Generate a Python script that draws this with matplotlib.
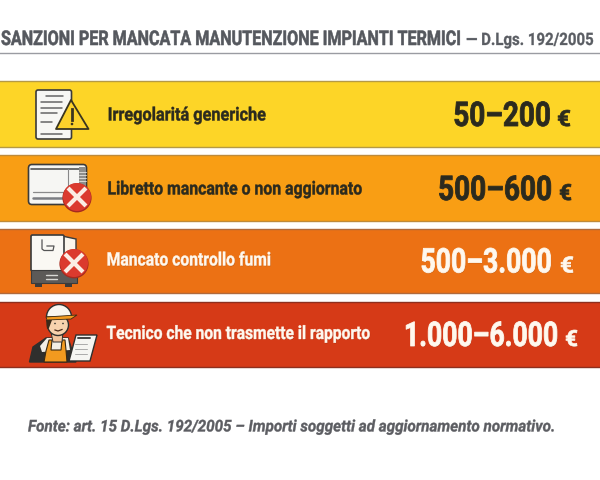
import matplotlib.patheffects as pe
import matplotlib.pyplot as plt
from matplotlib.patches import Circle, FancyBboxPatch, Polygon, Rectangle, Wedge
from matplotlib.text import Text
from matplotlib.transforms import Affine2D

# chart content
title_main = "SANZIONI PER MANCATA MANUTENZIONE IMPIANTI TERMICI"
title_sub = "— D.Lgs. 192/2005"
labels = [
    "Irregolaritá generiche",
    "Libretto mancante o non aggiornato",
    "Mancato controllo fumi",
    "Tecnico che non trasmette il rapporto",
]
amounts = ["50–200", "500–600", "500–3.000", "1.000–6.000"]
source = "Fonte: art. 15 D.Lgs. 192/2005 – Importi soggetti ad aggiornamento normativo."

# layout and style, in pixels of the 600x480 picture
bar_tops = [81, 154.5, 229, 302]
bar_heights = [66, 66, 64, 64.5]
bar_colors = ["#FDD527", "#F99E14", "#EC7114", "#D63A17"]
edge_colors = ["#B59A45", "#BE8A3A", "#B06A3C", "#8E2F1E"]
text_colors = ["#2B2A1E", "#2B2A1E", "#FFF8EE", "#FFF8EE"]
label_spans = [(107.7, 266.7), (107.5, 363), (106.7, 271.7), (106.5, 371.7)]
label_base = [120.5, 194.5, 265.5, 339]
amount_spans = [(453.3, 550.7), (438, 552), (420.5, 551.7), (404, 558)]
euro_spans = [(557, 571), (559, 572), (560, 574), (565, 578)]
amount_base = [126, 200, 272.5, 346]

DARK = "#3B3B3B"
FONT = "Roboto"


class Squeeze(pe.AbstractPathEffect):
    """Narrow and slightly thicken the glyphs around x0, there is no condensed font here."""

    def __init__(self, x0, sx, stroke=0.0, shadow=False):
        super().__init__()
        self.x0, self.sx, self.stroke, self.shadow = x0, sx, stroke, shadow

    def draw_path(self, renderer, gc, tpath, affine, rgbFace=None):
        narrow = affine + Affine2D().translate(-self.x0, 0).scale(self.sx, 1).translate(self.x0, 0)
        if self.shadow:
            gc0 = renderer.new_gc()
            gc0.copy_properties(gc)
            gc0.set_alpha(0.3)
            renderer.draw_path(gc0, tpath, narrow + Affine2D().translate(0.5, -0.7), (0.3, 0.1, 0.0))
            gc0.restore()
        gc.set_foreground(rgbFace)
        gc.set_linewidth(self.stroke)
        renderer.draw_path(gc, tpath, narrow, rgbFace)


def fit_text(ax, span, base, s, size, color, stroke=0.3, shadow=False, **kw):
    """Put s on baseline base so that it runs across the pixel span."""
    t = ax.text(span[0], base, s, family=FONT, weight="bold", fontsize=size, color=color,
                va="baseline", ha="left", zorder=8, **kw)
    width = t.get_window_extent(fig.canvas.get_renderer()).width
    t.set_path_effects([Squeeze(span[0], (span[1] - span[0]) / width, stroke, shadow)])
    return t


def add_box(ax, x, y, w, h, face="white", edge=DARK, lw=1.2, r=2.0, z=3):
    ax.add_patch(FancyBboxPatch((x + r, y + r), w - 2 * r, h - 2 * r,
                                boxstyle=f"round,pad={r}", fc=face, ec=edge, lw=lw, zorder=z))


def add_lines(ax, x0, x1, ys, color="#666666", lw=1.1, z=4):
    for y in ys:
        ax.plot([x0, x1], [y, y], color=color, lw=lw, zorder=z, solid_capstyle="round")


def add_cross(ax, cx, cy):
    ax.add_patch(Circle((cx, cy + 0.8), 14.6, fc="#A52A1E", ec="none", zorder=6))
    ax.add_patch(Circle((cx, cy), 14, fc="#DB3A2E", ec="none", zorder=6))
    ax.plot([cx - 7.5, cx + 7.5], [cy - 7.5, cy + 7.5], color="#FBEDE4", lw=3, zorder=7)
    ax.plot([cx - 7.5, cx + 7.5], [cy + 7.5, cy - 7.5], color="#FBEDE4", lw=3, zorder=7)


def draw_document_icon(ax):
    add_box(ax, 36, 90, 35.5, 49, face="#F7F7F4")
    add_lines(ax, 46, 63, [96])
    add_lines(ax, 41, 62, [102, 107.5])
    add_lines(ax, 41, 57, [113])
    add_lines(ax, 41, 52, [122])
    add_lines(ax, 41, 62, [133.5])
    ax.add_patch(Polygon([(71, 100), (88.5, 129), (56, 129)], closed=True, fc="#FCD22B",
                         ec="#3A3520", lw=1.3, joinstyle="round", zorder=5))
    ax.plot([72, 72], [109, 119.5], color="#3A3520", lw=2, zorder=6)
    ax.add_patch(Circle((72, 124), 1.3, fc="#3A3520", ec="none", zorder=6))


def draw_boiler_icon(ax):
    add_box(ax, 28.5, 164.5, 58, 40, face="#F6F6F3", r=3.5)
    add_lines(ax, 31, 85, [169], color="#555555", lw=1.2)
    add_lines(ax, 33, 68, [198], color="#7C7E82", lw=1.8)
    add_lines(ax, 33, 64, [192], color="#8A8A8A", lw=0.9)
    ax.plot([68, 68], [169, 190], color="#888888", lw=0.8, zorder=4)
    ax.add_patch(Rectangle((79, 167), 7, 19, fc="#8E8E8C", ec="none", zorder=4))
    add_lines(ax, 79, 86, [172, 175, 178, 181], color="#E4E4E0", lw=0.6, z=5)
    add_cross(ax, 77, 197)


def draw_heater_icon(ax):
    ax.add_patch(Polygon([(62, 236), (76, 239), (76, 265), (62, 268)], closed=True,
                         fc="#FBF6EC", ec=DARK, lw=1, zorder=3))
    add_box(ax, 31, 235, 33, 36, face="#FAF8F3", r=1.5)
    ax.add_patch(Rectangle((31, 270), 46, 13, fc="#5C5A58", ec=DARK, lw=0.8, zorder=4))
    add_lines(ax, 46, 57, [275, 278.5], color="#D8D8D4", lw=1, z=5)
    ax.add_patch(Rectangle((35, 283), 7, 4, fc=DARK, ec="none", zorder=3))
    ax.add_patch(Rectangle((65, 283), 7, 4, fc=DARK, ec="none", zorder=3))
    ax.plot([42, 42, 44, 53, 54, 47], [240, 249, 250.5, 250.5, 246, 246], color="#555555", lw=0.9, zorder=5)
    add_cross(ax, 74, 263)


def draw_technician_icon(ax):
    # jacket, collar and orange apron
    ax.add_patch(Polygon([(29.5, 362), (33, 347), (46, 338), (68, 338), (76, 362)], closed=True,
                         fc="#2F2F2D", ec="#2F2F2D", lw=1, zorder=3))
    ax.add_patch(Polygon([(40, 346), (47, 338), (68, 338), (70, 350), (42, 352)], closed=True,
                         fc="#F3EFE6", ec="none", zorder=3))
    ax.add_patch(Polygon([(44, 362), (46, 351), (49, 340), (52, 340), (51, 350), (61, 350),
                          (62, 340), (65, 340), (66, 350), (67, 362)],
                         closed=True, fc="#F29A1F", ec="#3A2A12", lw=0.8, zorder=4))
    # face and helmet
    ax.add_patch(Polygon([(51, 332), (63, 332), (62, 342), (53, 342)], closed=True,
                         fc="#F2C49C", ec="#2F2F2D", lw=0.7, zorder=4))
    ax.add_patch(Circle((58, 325), 10.5, fc="#F7D2AE", ec="#2F2F2D", lw=1, zorder=4))
    ax.add_patch(Wedge((59, 317), 12.5, 180, 360, fc="#F8F6F0", ec="#2F2F2D", lw=1, zorder=5))
    ax.add_patch(Polygon([(46, 317), (77, 315), (71, 319), (47, 320)], closed=True,
                         fc="#F29A1F", ec="#3A2A12", lw=0.6, zorder=5))
    ax.add_patch(Polygon([(46, 320), (52, 320), (49, 328), (47, 329)], closed=True,
                         fc="#3A2A1A", ec="none", zorder=5))
    ax.add_patch(Circle((55, 323.5), 0.8, fc="#2F2F2D", ec="none", zorder=6))
    ax.add_patch(Circle((63, 323.5), 0.8, fc="#2F2F2D", ec="none", zorder=6))
    ax.plot([55, 58, 62], [330, 331, 329.5], color="#4A2A1A", lw=0.9, zorder=6)
    # clipboard
    ax.add_patch(Polygon([(76, 335), (97, 335), (90, 361), (69, 361)], closed=True,
                         fc="#F5F5F2", ec="#2F2F2D", lw=1, zorder=6))
    add_lines(ax, 78, 90, [338], color="#444444", lw=1.4, z=7)
    add_lines(ax, 75, 87, [344, 349, 354], color="#AAAAAA", lw=0.7, z=7)


fig = plt.figure(figsize=(6, 4.8), dpi=100, facecolor="white")
ax = fig.add_axes([0, 0, 1, 1])
ax.set_xlim(0, 600)
ax.set_ylim(480, 0)
ax.axis("off")

# header
fit_text(ax, (1, 460), 45, title_main, 14.6, "#55585E", stroke=0.4)
fit_text(ax, (466, 594), 45, title_sub, 12.3, "#5A5D63", stroke=0.2)
ax.plot([0, 600], [53, 53], color="#9A9CA2", lw=1)

# bars run past the picture edges, only top and bottom lines show
centers = [t + h / 2 for t, h in zip(bar_tops, bar_heights)]
ax.barh(centers, [610] * 4, left=-5, height=bar_heights, color=bar_colors,
        edgecolor=edge_colors, linewidth=1.0, zorder=1)

for i, (label, amount) in enumerate(zip(labels, amounts)):
    shadow = i >= 2
    fit_text(ax, label_spans[i], label_base[i], label, 13.3, text_colors[i], 0.3, shadow)
    fit_text(ax, amount_spans[i], amount_base[i], amount, 24.5, text_colors[i], 0.6, shadow)
    fit_text(ax, euro_spans[i], amount_base[i], "€", 16, text_colors[i], 0.5, shadow)

draw_document_icon(ax)
draw_boiler_icon(ax)
draw_heater_icon(ax)
draw_technician_icon(ax)

# footnote
fit_text(ax, (28, 555), 431.5, source, 11.7, "#5C5D62", stroke=0.25, style="italic")

fig.savefig("out.png", dpi=100)
